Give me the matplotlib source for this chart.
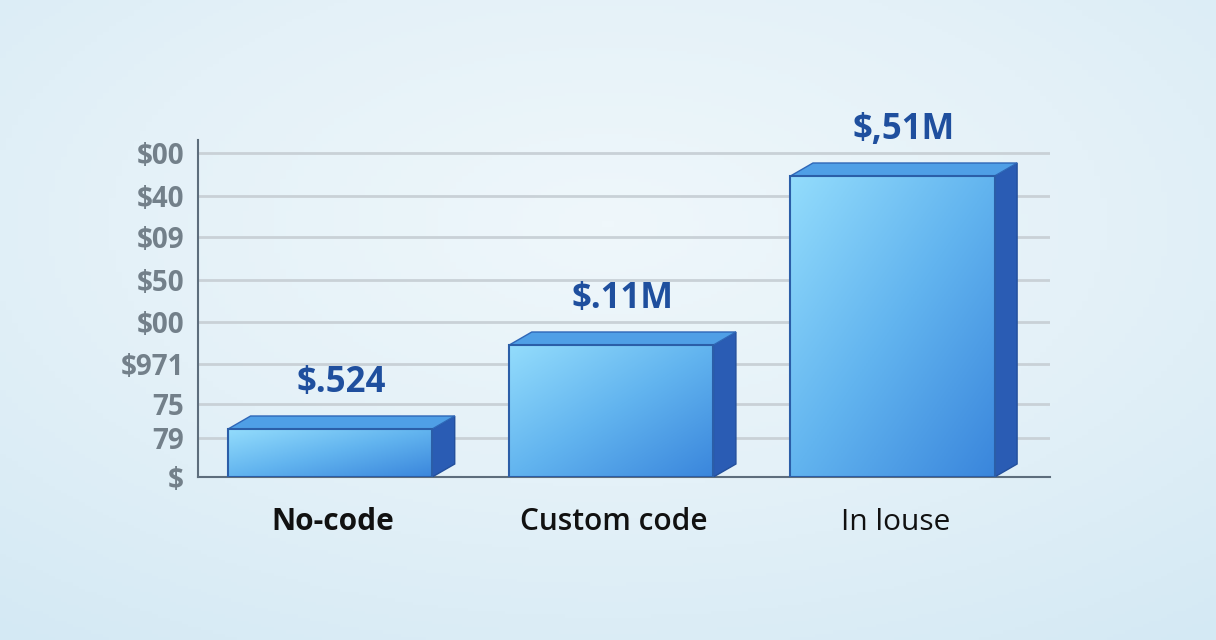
import numpy as np
import matplotlib.pyplot as plt
from matplotlib.patches import Polygon, Rectangle
from matplotlib.colors import LinearSegmentedColormap

categories = ["No-code", "Custom code", "In louse"]
values = [48, 132, 301]
value_labels = ["$.524", "$.11M", "$,51M"]
tick_pos = [0, 39, 73, 113, 155, 197, 240, 281, 324]
tick_labels = ["$", "79", "75", "$971", "$00", "$50", "$09", "$40", "$00"]
cat_weights = ["bold", "semibold", "normal"]

plt.rcParams['font.family'] = ['Open Sans', 'DejaVu Sans']

fig = plt.figure(figsize=(12.16, 6.4), dpi=100)

# background gradient
bg = fig.add_axes([0, 0, 1, 1], zorder=-10)
yy, xx = np.mgrid[0:1:200j, 0:1:200j]
r = np.sqrt(((xx - 0.5) / 0.9) ** 2 + ((yy - 0.35) / 0.9) ** 2)
bg_cmap = LinearSegmentedColormap.from_list("bg", ["#eff7fb", "#e4f1f8", "#d4e9f4"])
bg.imshow(r, cmap=bg_cmap, aspect="auto", extent=[0, 1, 0, 1], origin="upper")
bg.axis("off")

ax = fig.add_axes([198 / 1216, 163 / 640, 852 / 1216, 337 / 640])
ax.set_facecolor("none")
ax.set_xlim(-0.47, 2.56)
ax.set_ylim(0, 337)

width = 0.726
dx = 0.08
dy = 13

front_cmap = LinearSegmentedColormap.from_list("front", ["#93dcfc", "#62b4ef", "#3a86dc"])
grad = np.add.outer(np.linspace(0, 1, 100), np.linspace(0, 1, 100)) / 2

for i, v in enumerate(values):
    x0 = i - width / 2
    x1 = i + width / 2
    # side face
    side = Polygon([(x1, 0), (x1 + dx, dy), (x1 + dx, v + dy), (x1, v)],
                   closed=True, facecolor="#2a5cb4", edgecolor="#234f9c", lw=1, zorder=3)
    ax.add_patch(side)
    # top face
    top = Polygon([(x0, v), (x0 + dx, v + dy), (x1 + dx, v + dy), (x1, v)],
                  closed=True, facecolor="#4f9fe6", edgecolor="#2f67b8", lw=1, zorder=3)
    ax.add_patch(top)
    # front face with gradient
    rect = Rectangle((x0, 0), width, v, facecolor="none", edgecolor="#2b5ea8", lw=1.5, zorder=5)
    ax.add_patch(rect)
    im = ax.imshow(grad, cmap=front_cmap, extent=[x0, x1, 0, v], origin="upper",
                   aspect="auto", zorder=4)
    im.set_clip_path(rect)
    ax.text(i + 0.04, v + dy + 15, value_labels[i], ha="center", va="bottom",
            fontsize=25, fontweight="bold", color="#1f4f9e")
    ax.text(i + 0.01, -45, categories[i], ha="center", va="center",
            fontsize=21.5, fontweight=cat_weights[i], color="#111111")

ax.set_yticks(tick_pos)
ax.set_yticklabels(tick_labels)
ax.set_xticks([])
ax.tick_params(axis="y", length=0, pad=10, labelsize=20, labelcolor="#73808a")
for lab in ax.get_yticklabels():
    lab.set_fontweight("bold")
ax.grid(axis="y", color="#c9d1d7", lw=2, zorder=1)
ax.set_axisbelow(True)

for s in ["top", "right"]:
    ax.spines[s].set_visible(False)
ax.spines["left"].set_color("#5d6d7c")
ax.spines["left"].set_linewidth(1.5)
ax.spines["bottom"].set_color("#5d6d7c")
ax.spines["bottom"].set_linewidth(1.5)

fig.savefig("out.png", dpi=100)
